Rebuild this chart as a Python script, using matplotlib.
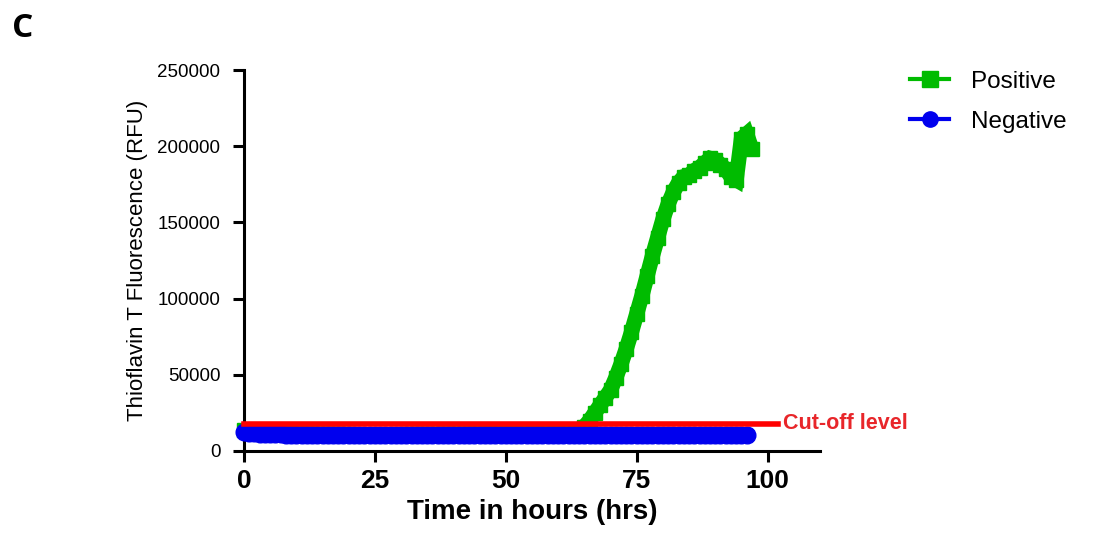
import numpy as np
import matplotlib.pyplot as plt
from matplotlib.lines import Line2D

plt.rcParams['font.family'] = ['Liberation Sans', 'DejaVu Sans']

# --- readings from the plate reader (hourly), values in RFU
hours_pos = list(range(0, 98))
positive = [13800, 12800, 12400, 12200, 12000, 11900, 11800, 11700, 11600, 11500,
            11400, 11300, 11300, 11200, 11200, 11100, 11100, 11000, 11000, 10900,
            10900, 10800, 10800, 10700, 10700, 10700, 10700, 10700, 10800, 10800,
            10800, 10900, 10900, 10900, 11000, 11000, 11000, 11100, 11100, 11100,
            11200, 11200, 11200, 11300, 11300, 11300, 11400, 11400, 11400, 11500,
            11500, 11500, 11600, 11600, 11700, 11700, 11800, 11900, 12000, 12100,
            12300, 12500, 12800, 13200, 14000, 16000, 20000, 25000, 30000, 35000,
            40000, 48000, 57000, 67000, 78000, 90000, 102000, 115000, 128000, 140000,
            152000, 162000, 170000, 176000, 180000, 181000, 184000, 186000, 189000, 192000,
            191000, 188000, 185000, 180000, 178000, 205000, 208000, 198000]

hours_neg = list(range(0, 97))
negative = [12300, 11800, 11500, 11300, 11100, 11000, 10900, 10900, 10800, 10800,
            10700, 10700, 10700, 10600, 10600, 10500, 10500, 10500, 10400, 10400,
            10400, 10400, 10300, 10300, 10300, 10300, 10300, 10300, 10300, 10300,
            10300, 10300, 10300, 10300, 10300, 10400, 10400, 10400, 10400, 10500,
            10500, 10500, 10500, 10500, 10600, 10600, 10600, 10600, 10600, 10600,
            10600, 10600, 10600, 10600, 10600, 10600, 10600, 10600, 10600, 10600,
            10600, 10600, 10600, 10600, 10600, 10600, 10600, 10600, 10600, 10600,
            10600, 10600, 10500, 10500, 10500, 10500, 10500, 10500, 10500, 10500,
            10500, 10500, 10500, 10500, 10500, 10500, 10500, 10500, 10500, 10500,
            10500, 10500, 10500, 10500, 10500, 10500, 10500]

cutoff = 18000
cutoff_span = [0, 102]

green = '#00bb00'
blue = '#0000ee'

fig = plt.figure(figsize=(10.93, 5.42), dpi=100)
ax = fig.add_axes([0.2232, 0.1679, 0.527, 0.7029])

ax.plot(hours_pos, positive, color=green, marker='s', markersize=10.5, lw=11,
        solid_joinstyle='miter', solid_capstyle='butt', clip_on=False, zorder=3)
ax.plot(hours_neg, negative, color=blue, marker='o', markersize=12, lw=11.5,
        solid_capstyle='round', clip_on=False, zorder=4)
ax.plot(cutoff_span, [cutoff, cutoff], color='#ff0000', lw=4, clip_on=False, zorder=5)
ax.text(cutoff_span[1] + 1.0, cutoff, 'Cut-off level', color='#e8262a', fontsize=15.5,
        fontweight='bold', va='center', ha='left')

ax.set_xlim(0, 110)
ax.set_ylim(0, 250000)
ax.set_xticks([0, 25, 50, 75, 100])
ax.set_yticks(range(0, 250001, 50000))
ax.spines['top'].set_visible(False)
ax.spines['right'].set_visible(False)
ax.spines['left'].set_linewidth(2.2)
ax.spines['bottom'].set_linewidth(2.2)
ax.tick_params(axis='both', direction='out', length=8, width=2.2)
ax.tick_params(axis='y', labelsize=13.5, pad=9)
ax.tick_params(axis='x', labelsize=19, pad=5)
for lbl in ax.get_xticklabels():
    lbl.set_fontweight('bold')

ax.set_xlabel('Time in hours (hrs)', fontsize=20, fontweight='bold', labelpad=4)
ax.set_ylabel('Thioflavin T Fluorescence (RFU)', fontsize=16, labelpad=7)

handles = [Line2D([], [], color=green, marker='s', markersize=11, lw=3),
           Line2D([], [], color=blue, marker='o', markersize=11, lw=3)]
fig.legend(handles, ['Positive', 'Negative'], loc='upper left',
           bbox_to_anchor=(0.813, 0.91), frameon=False,
           fontsize=17.5, handlelength=1.6, handletextpad=0.9, labelspacing=0.75)

fig.text(0.011, 0.947, 'C', fontsize=24, fontweight='bold', va='center',
         family=['Open Sans', 'DejaVu Sans'])

plt.savefig('out.png', dpi=100)
